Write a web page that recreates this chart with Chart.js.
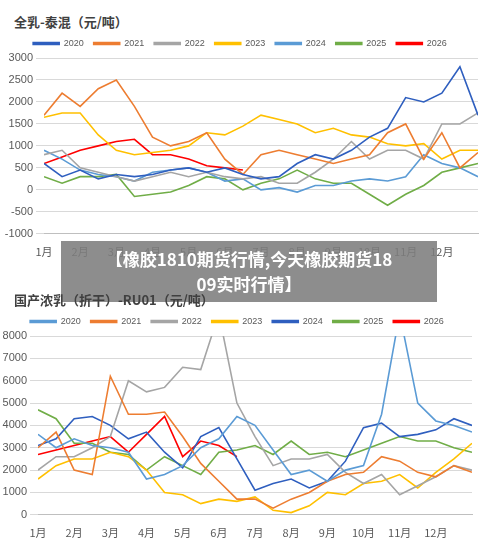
<!DOCTYPE html>
<html><head><meta charset="utf-8">
<script src="https://cdn.jsdelivr.net/npm/chart.js@4/dist/chart.umd.min.js"></script>
<style>
body{margin:0;background:#fff;font-family:"Noto Sans CJK SC",sans-serif;}
#wrap{position:relative;width:500px;height:546px;overflow:hidden;}
.t{position:absolute;left:14px;font-size:13px;font-weight:bold;color:#404040;}
canvas{position:absolute;left:0;}
#ban{position:absolute;left:61px;top:241px;width:376px;height:61px;background:rgba(125,125,125,0.88);color:#fff;font-weight:bold;font-size:17px;text-align:center;line-height:25px;padding-top:5px;box-sizing:border-box;}
</style></head><body>
<div id="wrap">
<div class="t" style="top:12px">全乳-泰混（元/吨）</div>
<canvas id="c1" width="500" height="232" style="top:29px;width:500px;height:232px"></canvas>
<canvas id="c2" width="500" height="235" style="top:307px;width:500px;height:235px"></canvas>
<div id="ban">【橡胶1810期货行情,今天橡胶期货18<br>09实时行情】</div>
<div class="t" style="top:290px">国产浓乳（折干）-RU01（元/吨）</div>
</div>
<script>
const months=["1月","2月","3月","4月","5月","6月","7月","8月","9月","10月","11月","12月"];
const years=["2020","2021","2022","2023","2024","2025","2026"];
// chart 1: semi-monthly values
const a2020=[600,300,450,250,350,300,350,450,500,400,500,350,250,300,600,800,700,900,1200,1400,2100,2000,2200,2800,1700];
const a2021=[1700,2200,1900,2300,2500,1900,1200,1000,1100,1300,700,350,800,900,800,700,600,700,800,1300,1500,700,1300,500,850];
const a2022=[800,900,500,400,300,200,300,400,300,400,300,250,300,150,150,400,700,1100,700,900,900,700,1500,1500,1750];
const a2023=[1650,1750,1750,1250,900,800,850,900,1000,1300,1250,1450,1700,1600,1500,1300,1400,1250,1200,1050,1000,1050,700,900,900];
const a2024=[900,700,450,350,300,200,400,450,500,400,200,250,0,50,-50,100,100,200,250,200,300,800,600,500,300];
const a2025=[300,150,300,300,350,-150,-100,-50,100,300,250,0,150,250,450,250,150,150,-100,-350,-100,100,400,500,600];
const a2026=[600,750,900,1000,1100,1150,800,800,700,550,500,450];
// chart 2
const b2020=[3600,3000,3400,3100,3000,2800,1600,1800,2200,3000,3400,4400,4000,2900,1800,2000,1500,2000,2200,4500,9000,5000,4200,4000,3700];
const b2021=[3000,3700,2000,1800,6200,4500,4500,4600,3500,2300,1500,700,700,300,700,1000,1500,1800,1900,2600,2400,1900,1700,2200,1900];
const b2022=[2000,2600,2600,3000,3500,6000,5500,5700,6600,6500,9000,5000,3500,2200,2500,2500,2700,1900,1400,1800,900,1300,1700,2200,2000];
const b2023=[1600,2200,2500,2500,2800,2600,2000,1000,900,500,700,600,800,200,100,400,1000,900,1400,1500,1800,1200,1900,2500,3200];
const b2024=[3100,3400,4300,4400,4000,3400,3700,2800,2100,3500,3900,2500,1100,1400,1600,1200,1500,2400,3900,4100,3500,3600,3800,4300,4000];
const b2025=[4700,4300,3200,3200,2800,2700,2000,2600,2200,1800,2800,2900,3100,2700,3300,2700,2800,2600,2900,3200,3500,3300,3300,3000,2800];
const b2026=[2700,2900,3100,3300,3500,2800,3600,4400,2600,3300,3100,2600];
const col1=["#2f5fbf","#ed7d31","#a5a5a5","#ffc000","#5b9bd5","#70ad47","#ff0000"];
const col2=["#5b9bd5","#ed7d31","#a5a5a5","#ffc000","#2f5fbf","#70ad47","#ff0000"];
const pts=a=>a.map((v,i)=>({x:i/2,y:v}));
function make(id,sets,cols,min,max,step,yw,rp){
 new Chart(document.getElementById(id),{type:'line',
  data:{datasets:sets.map((s,i)=>({label:years[i],data:pts(s),borderColor:cols[i],backgroundColor:cols[i],borderWidth:1.6,pointRadius:0,tension:0}))},
  options:{responsive:false,animation:false,
   layout:{padding:{right:rp,left:2}},
   plugins:{legend:{labels:{boxWidth:26,boxHeight:2,font:{size:9,family:'Liberation Sans'},color:'#595959',padding:10}},tooltip:{enabled:false}},
   scales:{x:{type:'linear',min:0,max:12,grid:{display:false},border:{color:'#bfbfbf'},
     ticks:{stepSize:1,autoSkip:false,maxRotation:0,color:'#595959',font:{size:11,family:'Noto Sans CJK SC'},callback:v=>months[v]||''}},
    y:{min:min,max:max,grid:{color:'#d9d9d9'},border:{display:false},afterFit:s=>{s.width=yw;},
     ticks:{stepSize:step,color:'#595959',font:{size:11,family:'Liberation Sans'},callback:v=>String(v)}}}}});
}
make('c1',[a2020,a2021,a2022,a2023,a2024,a2025,a2026],col1,-1000,3000,500,42,22);
make('c2',[b2020,b2021,b2022,b2023,b2024,b2025,b2026],col2,0,8000,1000,36,28);
</script></body></html>
